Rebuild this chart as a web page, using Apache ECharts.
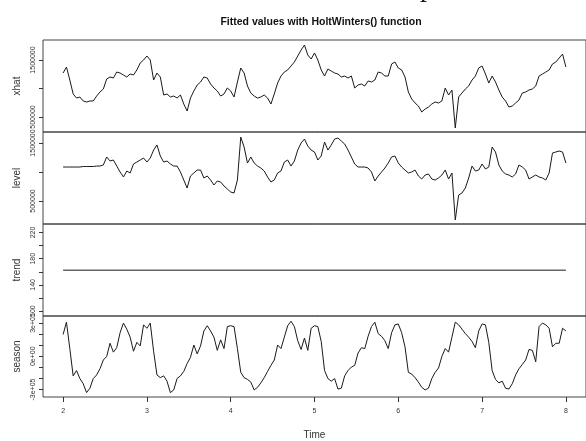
<!DOCTYPE html>
<html><head><meta charset="utf-8">
<script src="https://cdn.jsdelivr.net/npm/echarts@6/dist/echarts.min.js"></script>
<style>html,body{margin:0;padding:0;background:#fff}#c{width:586px;height:441px}</style>
</head><body><div id="c"></div>
<script>
// time series: start 2, 25 observations per unit of time (values in thousands)
const START = 2, FREQ = 25;
const xTicks = [2, 3, 4, 5, 6, 7, 8];

const xhatK = [1272,1377,1149,904,833,851,781,763,781,781,868,939,991,1167,1202,1184,1289,1272,1237,1202,
1254,1237,1325,1447,1500,1570,1500,1149,1272,1202,886,904,851,868,833,886,728,605,833,956,
1061,1114,1202,1184,1079,1009,956,868,904,1009,956,851,1114,1360,1272,1044,921,868,833,851,
886,833,728,904,1096,1219,1289,1325,1395,1465,1570,1675,1763,1588,1518,1623,1500,1325,1219,1342,
1307,1272,1254,1202,1219,1184,1219,1009,1061,1079,1044,1132,1114,1149,1289,1272,1219,1219,1430,1465,
1360,1325,1202,939,816,746,693,588,640,675,728,763,746,781,1009,886,974,307,851,921,
991,1044,1149,1219,1360,1395,1254,1096,1219,1114,974,851,781,675,693,746,798,921,939,974,
991,1044,1219,1254,1289,1325,1430,1465,1535,1605,1377];

const levelK = [1086,1086,1086,1086,1086,1086,1095,1095,1095,1095,1103,1103,1121,1259,1190,1207,1103,1000,914,1017,
983,1138,1172,1207,1241,1172,1241,1379,1466,1276,1172,1190,1138,1103,1103,1000,862,724,931,983,
1034,1034,897,931,862,776,845,828,759,707,655,638,862,1603,1431,1155,1259,1155,1103,1069,
1017,914,828,862,983,1017,1172,1207,1103,1190,1379,1500,1569,1448,1379,1345,1207,1276,1517,1379,
1466,1569,1586,1534,1483,1379,1259,1138,1086,1086,1086,1069,1000,845,931,1000,1069,1155,1259,1276,
1155,1086,1034,983,1000,1034,931,879,948,966,879,862,897,948,1034,879,983,172,603,638,
724,897,1103,1017,1034,1138,1052,1086,1431,1345,1121,1017,966,948,914,966,1121,1086,1034,879,
914,948,914,897,862,983,1328,1345,1362,1345,1155];

const seasonK = [196,307,69,-177,-129,-201,-248,-328,-288,-201,-169,-113,-34,-2,117,37,77,212,299,244,
172,45,125,93,283,252,299,45,-169,-193,-177,-225,-328,-304,-201,-177,-137,-66,-10,101,
21,93,228,275,228,172,53,148,69,267,275,267,69,-145,-193,-209,-233,-304,-280,-240,
-193,-137,-82,-34,101,69,172,275,315,267,140,61,164,53,252,275,267,133,-129,-201,
-225,-201,-296,-288,-177,-129,-98,-82,29,77,69,180,267,307,204,180,140,69,212,283,
291,212,85,-145,-161,-193,-233,-280,-304,-288,-201,-145,-106,-2,69,37,172,307,283,244,
204,172,133,77,228,291,283,125,-129,-209,-240,-225,-288,-296,-248,-169,-113,-74,-34,61,
53,-50,267,299,283,252,85,117,117,252,228];

const trendTimes = [2, 8];
const trendValues = [162.5, 162.5];

const xhatTicks = [500000, 1000000, 1500000], xhatLabels = [500000, 1500000];
const levelTicks = [500000, 1000000, 1500000], levelLabels = [500000, 1500000];
const trendTicks = [100, 120, 140, 160, 180, 200, 220], trendLabels = [100, 140, 180, 220];
const seasonTicks = [-300000, -200000, -100000, 0, 100000, 200000, 300000];
const seasonLabelValues = [-300000, 0, 300000];
const seasonLabelText = ['-3e+05', '0e+00', '3e+05'];

const panelNames = ['xhat', 'level', 'trend', 'season'];

const toSeries = (arr) => arr.map((v, i) => [START + i / FREQ, v * 1000]);

const FONT = 'Liberation Sans';
const AX = '#333';
const tops = [40, 132, 224, 316];
const grids = tops.map(t => ({ left: 43, top: t, width: 546, height: 92, show: true,
  borderColor: '#444', borderWidth: 1, backgroundColor: 'transparent' }));

const xAxes = tops.map((t, k) => ({
  type: 'value', gridIndex: k, min: 1.76, max: 8.24, position: 'bottom',
  show: k === 3,
  axisLine: { show: false, onZero: false }, splitLine: { show: false },
  axisTick: { show: true, length: 5, lineStyle: { color: AX }, customValues: xTicks },
  axisLabel: { show: true, fontSize: 7, color: '#333', fontFamily: FONT, margin: 11, customValues: xTicks },
  name: k === 3 ? 'Time' : '', nameLocation: 'middle', nameGap: 33,
  nameTextStyle: { fontSize: 10, color: '#333', fontFamily: FONT }
}));

function yAxis(k, min, max, ticks, labels, fmt) {
  return {
    type: 'value', gridIndex: k, min: min, max: max, position: 'left',
    name: panelNames[k], nameLocation: 'middle', nameGap: 20, nameRotate: 90,
    nameTextStyle: { fontSize: 10, color: '#333', fontFamily: FONT },
    axisLine: { show: false, onZero: false }, splitLine: { show: false },
    axisTick: { show: true, length: 4, lineStyle: { color: AX }, customValues: ticks },
    axisLabel: { show: true, rotate: 90, fontSize: 7, color: '#333', fontFamily: FONT, margin: 6,
      customValues: labels, formatter: fmt || (v => String(v)) }
  };
}

const yAxes = [
  yAxis(0, 237000, 1851000, xhatTicks, xhatLabels),
  yAxis(1, 103500, 1690000, levelTicks, levelLabels),
  yAxis(2, 92.5, 233, trendTicks, trendLabels),
  yAxis(3, -367500, 362700, seasonTicks, seasonLabelValues,
    v => seasonLabelText[seasonLabelValues.indexOf(v)])
];

const line = (k, data) => ({ type: 'line', xAxisIndex: k, yAxisIndex: k, data: data,
  showSymbol: false, symbol: 'none', lineStyle: { color: '#1a1a1a', width: 1 }, animation: false });

const chart = echarts.init(document.getElementById('c'), null, { renderer: 'canvas' });
chart.setOption({
  animation: false,
  backgroundColor: '#fff',
  title: { text: 'Fitted values with HoltWinters() function', left: 316, top: 12, textAlign: 'center',
    textStyle: { fontSize: 10.5, fontWeight: 'bold', color: '#111', fontFamily: FONT } },
  graphic: [{ type: 'text', left: 420, top: -25, silent: true,
    style: { text: 'p', fontSize: 28, fontFamily: 'Liberation Serif', fill: '#111' } }],
  grid: grids,
  xAxis: xAxes,
  yAxis: yAxes,
  series: [
    line(0, toSeries(xhatK)),
    line(1, toSeries(levelK)),
    line(2, trendTimes.map((t, i) => [t, trendValues[i]])),
    line(3, toSeries(seasonK))
  ]
});
</script></body></html>
